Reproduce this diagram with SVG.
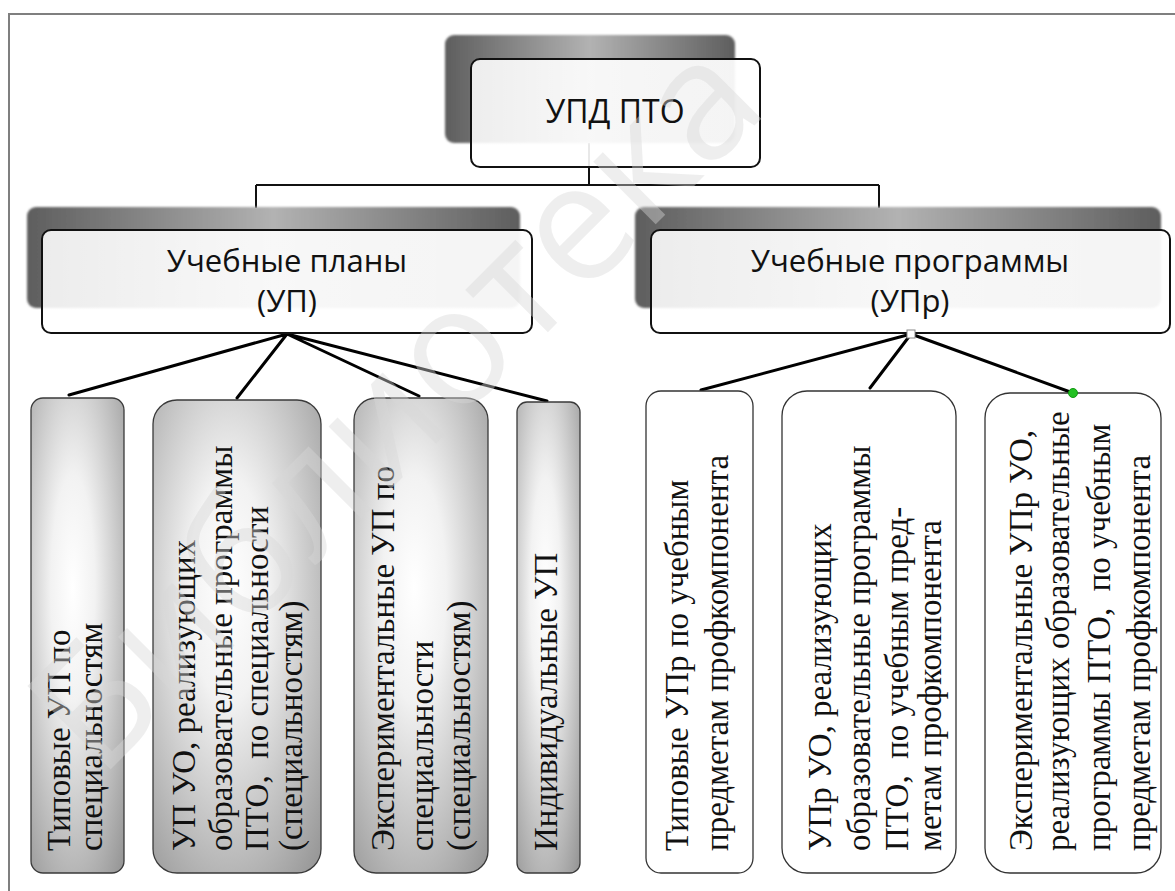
<svg xmlns="http://www.w3.org/2000/svg" width="1175" height="891" viewBox="0 0 1175 891">
<style>
.frame{fill:none;stroke:#7f7f7f;stroke-width:2}
.shadow{fill:url(#shadowGrad)}
.front{fill:url(#frontGrad);stroke:#111;stroke-width:2}
.head{font-family:"Open Sans","Liberation Sans",sans-serif;font-size:31px;fill:#111;text-anchor:middle}
.gray{fill:url(#grayGrad);stroke:#3a3a3a;stroke-width:1.3}
.white{fill:#fff;stroke:#333;stroke-width:1.3}
.vt{font-family:"Liberation Serif","Times New Roman",serif;font-size:33px;fill:#111}
.ortho{fill:none;stroke:#111;stroke-width:2}
.diag{fill:none;stroke:#000;stroke-width:3;stroke-linecap:round}
.wm{font-family:"Open Sans","Liberation Sans",sans-serif;font-size:165px;fill:#d8d8d8;opacity:0.42;text-anchor:middle}
</style>
<defs>
<linearGradient id="shadowGrad" x1="0" y1="0" x2="1" y2="0">
<stop offset="0" stop-color="#5e5e5e"/>
<stop offset="0.5" stop-color="#b2b2b2"/>
<stop offset="1" stop-color="#5e5e5e"/>
</linearGradient>
<linearGradient id="frontGrad" x1="0" y1="0" x2="1" y2="0">
<stop offset="0" stop-color="#ffffff" stop-opacity="0.88"/>
<stop offset="1" stop-color="#ffffff" stop-opacity="0.94"/>
</linearGradient>
<radialGradient id="grayGrad" cx="0.45" cy="0.4" r="0.85">
<stop offset="0" stop-color="#ffffff"/>
<stop offset="0.28" stop-color="#f2f2f2"/>
<stop offset="1" stop-color="#8c8c8c"/>
</radialGradient>
<filter id="soft" x="-5%" y="-10%" width="110%" height="120%">
<feGaussianBlur stdDeviation="1.2"/>
</filter>
</defs>
<rect x="0" y="0" width="1175" height="891" fill="#fff"/>
<path class="frame" d="M9,891 V14 H1175"/>

<g id="connectors">
<path class="ortho" d="M589,143 V185 M256,185 H879 M256,185 V208 M879,185 V208"/>
<path class="diag" d="M287,334 L69,395 M287,334 L237,398 M287,334 L419,396 M287,334 L547,401"/>
<path class="diag" d="M911,334 L701,390 M911,334 L870,388 M911,334 L1073,393"/>
</g>

<g id="node-top">
<rect class="shadow" x="445" y="35" width="290" height="108" rx="9" filter="url(#soft)"/>
<rect class="front" x="471" y="59" width="289" height="108" rx="9"/>
<text class="head" x="615" y="123" style="font-size:32px">УПД ПТО</text>
</g>

<g id="node-up">
<rect class="shadow" x="27" y="207" width="493" height="101" rx="9" filter="url(#soft)"/>
<rect class="front" x="42" y="230" width="490" height="103" rx="9"/>
<text class="head" x="287" y="272">Учебные планы</text>
<text class="head" x="287" y="312">(УП)</text>
</g>

<g id="node-upr">
<rect class="shadow" x="635" y="207" width="526" height="101" rx="9" filter="url(#soft)"/>
<rect class="front" x="651" y="230" width="519" height="103" rx="9"/>
<text class="head" x="910" y="272">Учебные программы</text>
<text class="head" x="910" y="312">(УПр)</text>
</g>

<g id="node-up-1">
<rect class="gray" x="31" y="398" width="93" height="475" rx="12"/>
<text class="vt" transform="translate(70,851) rotate(-90)">Типовые УП по</text>
<text class="vt" transform="translate(102,851) rotate(-90)">специальностям</text>
</g>
<g id="node-up-2">
<rect class="gray" x="153" y="400" width="168" height="473" rx="24"/>
<text class="vt" transform="translate(195,851) rotate(-90)">УП УО, реализующих</text>
<text class="vt" transform="translate(232,851) rotate(-90)">образовательные программы</text>
<text class="vt" transform="translate(268,851) rotate(-90)" xml:space="preserve">ПТО,  по специальности</text>
<text class="vt" transform="translate(302,851) rotate(-90)">(специальностям)</text>
</g>
<g id="node-up-3">
<rect class="gray" x="354" y="398" width="134" height="475" rx="22"/>
<text class="vt" transform="translate(394,851) rotate(-90)">Экспериментальные УП по</text>
<text class="vt" transform="translate(433,851) rotate(-90)">специальности</text>
<text class="vt" transform="translate(470,851) rotate(-90)">(специальностям)</text>
</g>
<g id="node-up-4">
<rect class="gray" x="517" y="402" width="63" height="471" rx="10"/>
<text class="vt" transform="translate(557,851) rotate(-90)">Индивидуальные УП</text>
</g>

<g id="node-upr-1">
<rect class="white" x="646" y="391" width="107" height="482" rx="15"/>
<text class="vt" transform="translate(688,851) rotate(-90)">Типовые УПр по учебным</text>
<text class="vt" transform="translate(728,851) rotate(-90)">предметам профкомпонента</text>
</g>
<g id="node-upr-2">
<rect class="white" x="782" y="391" width="174" height="482" rx="25"/>
<text class="vt" transform="translate(831,851) rotate(-90)">УПр УО, реализующих</text>
<text class="vt" transform="translate(870,851) rotate(-90)">образовательные программы</text>
<text class="vt" transform="translate(908,851) rotate(-90)" xml:space="preserve">ПТО,  по учебным пред-</text>
<text class="vt" transform="translate(941,851) rotate(-90)">метам профкомпонента</text>
</g>
<g id="node-upr-3">
<rect class="white" x="985" y="393" width="176" height="480" rx="25"/>
<text class="vt" transform="translate(1032,851) rotate(-90)">Экспериментальные УПр УО,</text>
<text class="vt" transform="translate(1069,851) rotate(-90)">реализующих образовательные</text>
<text class="vt" transform="translate(1110,851) rotate(-90)" xml:space="preserve">программы ПТО,  по учебным</text>
<text class="vt" transform="translate(1150,851) rotate(-90)">предметам профкомпонента</text>
</g>

<g id="handles">
<rect x="907" y="330" width="8" height="8" fill="#fff" stroke="#888" stroke-width="1"/>
<circle cx="1073" cy="393" r="4.5" fill="#22c022" stroke="#119911" stroke-width="1"/>
</g>

<text class="wm" transform="translate(435,445) rotate(-45)">Библиотека</text>
</svg>
